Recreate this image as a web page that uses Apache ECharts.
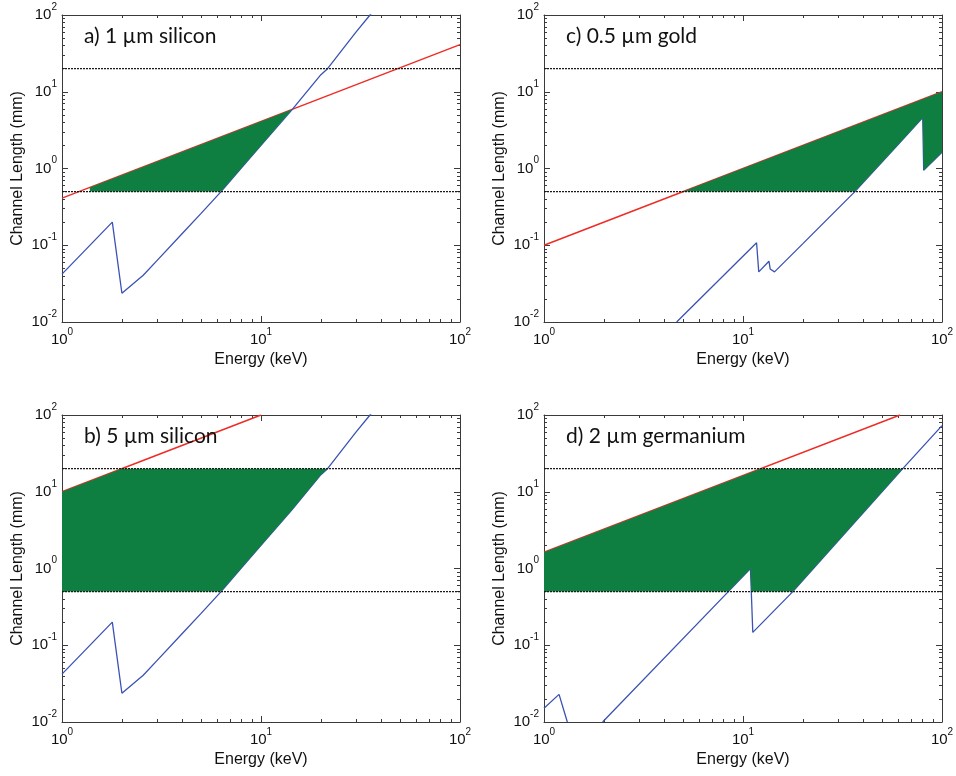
<!DOCTYPE html>
<html>
<head>
<meta charset="utf-8">
<script src="https://cdn.jsdelivr.net/npm/echarts@6/dist/echarts.min.js"></script>
<style>html,body{margin:0;padding:0;background:#fff}#main{width:956px;height:776px}</style>
</head>
<body>
<div id="main"></div>
<script>
// ---- data ----
const ENERGY_RANGE = [1, 100];          // keV
const LENGTH_RANGE = [0.01, 100];       // mm
const LOWER_LIMIT = 0.5;                // mm (dotted line)
const UPPER_LIMIT = 20;                 // mm (dotted line)

const panelLabels = ['a) 1 µm silicon', 'c) 0.5 µm gold', 'b) 5 µm silicon', 'd) 2 µm germanium'];

// red (straight power-law) lines, endpoints [E, L]
const redA = [[1, 0.41], [100, 41]];
const redB = [[1, 10], [10, 100]];
const redC = [[1, 0.1], [100, 10]];
const redD = [[1, 1.63], [61.5, 100]];

// blue curves [E, L]
const blueSilicon = [[1, 0.042], [1.79, 0.2], [2.0, 0.0237], [2.56, 0.0406], [3, 0.063], [4, 0.14], [5, 0.26], [6.3, 0.5], [8, 1.03], [10, 2.0], [14.3, 5.8], [20, 16.7], [21.6, 20], [30, 59.7], [35.3, 100], [40, 148]];
const blueGold = [[4.64, 0.01], [11.7, 0.108], [12.0, 0.045], [13.5, 0.062], [13.7, 0.049], [14.0, 0.05], [14.4, 0.045], [20, 0.105], [36.5, 0.5], [60, 2.03], [80, 4.6], [80.9, 0.95], [100, 1.63]];
const blueGermanium = [[1, 0.0151], [1.19, 0.0229], [1.31, 0.01], [1.6, '-'], [1.97, 0.01], [8.44, 0.5], [10.9, 1.0], [11.2, 0.147], [17.8, 0.5], [30, 2.28], [63.5, 20], [100, 72.6]];

// green regions (polygon vertices [E, L])
const fillA = [[1.38, 0.5], [1.38, 0.566], [14.3, 5.85], [10, 2.0], [8, 1.03], [6.3, 0.5]];
const fillB = [[1, 0.5], [1, 10], [2, 20], [21.6, 20], [20, 16.7], [14.3, 5.8], [10, 2.0], [8, 1.03], [6.3, 0.5]];
const fillC = [[5, 0.5], [100, 10], [100, 1.63], [80.9, 0.95], [80, 4.6], [60, 2.03], [36.5, 0.5]];
const fillD = [[1, 0.5], [1, 1.63], [12.27, 20], [63.5, 20], [30, 2.28], [17.8, 0.5], [11.0, 0.5], [10.9, 1.0], [8.44, 0.5]];

const panels = [
  {label: panelLabels[0], red: redA, blue: blueSilicon, fill: fillA},
  {label: panelLabels[1], red: redC, blue: blueGold, fill: fillC},
  {label: panelLabels[2], red: redB, blue: blueSilicon, fill: fillB},
  {label: panelLabels[3], red: redD, blue: blueGermanium, fill: fillD}
];

// ---- layout / style ----
const gridPos = [
  {left: 62, top: 15}, {left: 544, top: 15},
  {left: 62, top: 415}, {left: 544, top: 415}
];
const GW = 398, GH = 307;
const FRAME = '#3a3a3a';
const RED = '#ee2b24';
const BLUE = '#3a52b4';
const GREEN = '#0f7f41';
const FONT = 'Liberation Sans';

const rich = {
  b: {fontSize: 15, lineHeight: 26, fontFamily: FONT, color: '#111'},
  s: {fontSize: 10, lineHeight: 9, verticalAlign: 'top', fontFamily: FONT, color: '#111'}
};
const powLabel = v => '{b|10}{s|' + Math.round(Math.log10(v)) + '}';

const grids = [], xAxes = [], yAxes = [], series = [], titles = [];

function frameAxis(extra) {
  return Object.assign({
    type: 'log', logBase: 10,
    axisLine: {show: true, onZero: false, lineStyle: {color: FRAME, width: 1}},
    axisTick: {show: true, inside: true, length: 6, lineStyle: {color: FRAME, width: 1}},
    minorTick: {show: true, splitNumber: 9, length: 3, lineStyle: {color: FRAME, width: 1}},
    splitLine: {show: false},
    minorSplitLine: {show: false}
  }, extra);
}

panels.forEach((p, i) => {
  grids.push({left: gridPos[i].left, top: gridPos[i].top, width: GW, height: GH, outerBoundsMode: 'none'});
  xAxes.push(frameAxis({
    gridIndex: i, position: 'bottom', min: ENERGY_RANGE[0], max: ENERGY_RANGE[1],
    axisLabel: {show: true, margin: 5, formatter: powLabel, rich: rich},
    name: 'Energy (keV)', nameLocation: 'middle', nameGap: 30,
    nameTextStyle: {fontSize: 16, fontFamily: FONT, color: '#111'}
  }));
  xAxes.push(frameAxis({
    gridIndex: i, position: 'top', min: ENERGY_RANGE[0], max: ENERGY_RANGE[1],
    axisLabel: {show: false}
  }));
  yAxes.push(frameAxis({
    gridIndex: i, position: 'left', min: LENGTH_RANGE[0], max: LENGTH_RANGE[1],
    axisLabel: {show: true, margin: 5, formatter: powLabel, rich: rich},
    name: 'Channel Length (mm)', nameLocation: 'middle', nameGap: 36,
    nameTextStyle: {fontSize: 16, fontFamily: FONT, color: '#111'}
  }));
  yAxes.push(frameAxis({
    gridIndex: i, position: 'right', min: LENGTH_RANGE[0], max: LENGTH_RANGE[1],
    axisLabel: {show: false}
  }));

  const xi = 2 * i, yi = 2 * i;
  const poly = p.fill;
  series.push({
    type: 'custom', xAxisIndex: xi, yAxisIndex: yi, z: 3, silent: true,
    data: poly,
    renderItem: function (params, api) {
      if (params.dataIndex !== 0) return null;
      const pts = poly.map(d => api.coord(d));
      return {type: 'polygon', shape: {points: pts}, style: {fill: GREEN, stroke: null}};
    }
  });
  series.push({
    type: 'line', xAxisIndex: xi, yAxisIndex: yi, z: 2, data: p.red, showSymbol: false,
    lineStyle: {color: RED, width: 1.4}, silent: true, clip: true
  });
  series.push({
    type: 'line', xAxisIndex: xi, yAxisIndex: yi, z: 2, data: p.blue, showSymbol: false,
    connectNulls: false, lineStyle: {color: BLUE, width: 1.3}, silent: true, clip: true
  });
  [LOWER_LIMIT, UPPER_LIMIT].forEach(lim => {
    series.push({
      type: 'line', xAxisIndex: xi, yAxisIndex: yi, z: 4, showSymbol: false, silent: true,
      data: [[ENERGY_RANGE[0], lim], [ENERGY_RANGE[1], lim]],
      lineStyle: {color: '#1a1a1a', width: 1.2, type: [2, 1]}
    });
  });
  titles.push({
    text: p.label, left: gridPos[i].left + 17, top: gridPos[i].top + 6,
    textStyle: {fontSize: 21, fontWeight: 'normal', fontFamily: 'Lato', color: '#111'}
  });
});

const chart = echarts.init(document.getElementById('main'), null, {renderer: 'canvas'});
chart.setOption({
  animation: false,
  backgroundColor: '#fff',
  title: titles,
  grid: grids,
  xAxis: xAxes,
  yAxis: yAxes,
  series: series
});
</script>
</body>
</html>
